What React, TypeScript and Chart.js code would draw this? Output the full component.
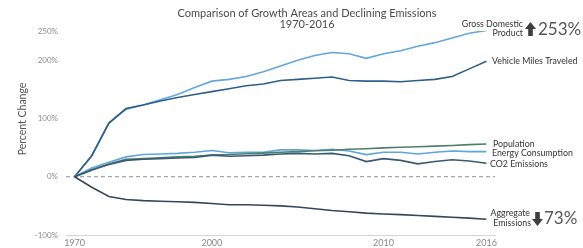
import React, { useEffect, useRef } from 'react';
import { Chart, registerables } from 'chart.js';

Chart.register(...registerables);

const years = ['1970', '1980', '1990', '1995', '1996', '1997', '1998', '1999', '2000', '2001', '2002', '2003', '2004', '2005', '2006', '2007', '2008', '2009', '2010', '2011', '2012', '2013', '2014', '2015', '2016'];
const shownYears = ['1970', '2000', '2010', '2016'];
const yTickValues = [-100, 0, 100, 200, 250];

const gdp = [0, 36, 92, 116, 123, 132, 141, 153, 164, 167, 172, 180, 190, 200, 208, 213, 211, 203, 211, 216, 224, 230, 238, 246, 251];
const vmt = [0, 36, 92, 117, 123, 130, 136, 141, 146, 151, 156, 159, 165, 167, 169, 171, 165, 164, 164, 163, 165, 167, 172, 185, 198];
const population = [0, 11, 22, 30, 31, 32.5, 34, 35, 37, 38, 39.5, 40.5, 42, 43, 44.5, 45.5, 47, 48, 49.5, 50.5, 51.5, 52.5, 53.5, 55, 56];
const energy = [0, 15, 25, 34, 38, 39, 40, 42, 45, 41, 42, 42, 46, 46, 45, 47, 44, 38, 42, 42, 39, 42, 44, 43, 43];
const co2 = [0, 12, 21, 28, 30, 31, 32, 33, 37, 35, 36, 37, 39, 40, 39, 40, 36, 26, 31, 28, 22, 26, 29, 27, 23];
const aggregate = [0, -18, -34, -39, -41, -42, -43, -44, -46, -48, -48, -49, -50, -52, -55, -58, -60, -62.5, -64, -65, -66.5, -68, -69.5, -71, -73];

const titleLines = ['Comparison of Growth Areas and Declining Emissions', '1970-2016'];
const yTitle = 'Percent Change';
const gdpChange = '253%';
const aggChange = '73%';

const FONT = 'Lato, "Noto Sans", sans-serif';

function arrow(ctx: CanvasRenderingContext2D, cx: number, top: number, h: number, up: boolean) {
  const hw = 5.5;
  const head = 7;
  const sw = 2.3;
  ctx.beginPath();
  if (up) {
    ctx.moveTo(cx, top);
    ctx.lineTo(cx + hw, top + head);
    ctx.lineTo(cx + sw, top + head);
    ctx.lineTo(cx + sw, top + h);
    ctx.lineTo(cx - sw, top + h);
    ctx.lineTo(cx - sw, top + head);
    ctx.lineTo(cx - hw, top + head);
  } else {
    const b = top + h;
    ctx.moveTo(cx, b);
    ctx.lineTo(cx + hw, b - head);
    ctx.lineTo(cx + sw, b - head);
    ctx.lineTo(cx + sw, top);
    ctx.lineTo(cx - sw, top);
    ctx.lineTo(cx - sw, b - head);
    ctx.lineTo(cx - hw, b - head);
  }
  ctx.closePath();
  ctx.fill();
}

const annotations = {
  id: 'annotations',
  afterDraw(chart: any) {
    const ctx: CanvasRenderingContext2D = chart.ctx;
    ctx.save();
    // title
    ctx.fillStyle = '#4a4a4a';
    ctx.textAlign = 'center';
    ctx.textBaseline = 'middle';
    ctx.font = `11px ${FONT}`;
    ctx.fillText(titleLines[0], 307, 13);
    ctx.fillText(titleLines[1], 307, 24);
    // y title
    ctx.save();
    ctx.translate(23, 119);
    ctx.rotate(-Math.PI / 2);
    ctx.font = `10.5px ${FONT}`;
    ctx.fillStyle = '#555';
    ctx.fillText(yTitle, 0, 0);
    ctx.restore();
    // series labels
    ctx.fillStyle = '#333';
    ctx.font = `8.8px ${FONT}`;
    ctx.textAlign = 'right';
    ctx.fillText('Gross Domestic', 523, 24);
    ctx.fillText('Product', 523, 33.5);
    ctx.fillText('Aggregate', 530, 213);
    ctx.fillText('Emissions', 531, 223);
    ctx.textAlign = 'left';
    ctx.fillText('Vehicle Miles Traveled', 492, 61);
    ctx.fillText('Population', 493, 144);
    ctx.fillText('Energy Consumption', 492, 153.5);
    ctx.fillText('CO2 Emissions', 490, 164.5);
    // arrows and big numbers
    ctx.fillStyle = '#3d3d3d';
    arrow(ctx, 530.5, 22, 14, true);
    arrow(ctx, 537.5, 212, 14, false);
    ctx.fillStyle = '#555';
    ctx.font = `17px ${FONT}`;
    ctx.fillText(gdpChange, 538, 30);
    ctx.fillText(aggChange, 544, 219);
    ctx.restore();
  },
};

export default function App() {
  const ref = useRef<HTMLCanvasElement | null>(null);
  useEffect(() => {
    if (!ref.current) return;
    const mk = (label: string, data: number[], color: string) => ({
      label,
      data,
      borderColor: color,
      backgroundColor: color,
      borderWidth: 1.6,
      pointRadius: 0,
      tension: 0,
      fill: false,
    });
    const chart = new Chart(ref.current, {
      type: 'line',
      data: {
        labels: years,
        datasets: [
          mk('Aggregate Emissions', aggregate, '#34485c'),
          mk('CO2 Emissions', co2, '#3b5a72'),
          mk('Population', population, '#4d7f6c'),
          mk('Energy Consumption', energy, '#5ea6dd'),
          mk('Vehicle Miles Traveled', vmt, '#2f5f88'),
          mk('Gross Domestic Product', gdp, '#62a7de'),
        ],
      },
      options: {
        responsive: true,
        maintainAspectRatio: false,
        animation: false,
        layout: { padding: { left: 0, right: 88, top: 31, bottom: 0 } },
        plugins: {
          legend: { display: false },
          tooltip: { enabled: false },
          title: { display: false },
        },
        scales: {
          x: {
            type: 'category',
            offset: true,
            grid: { display: true, drawOnChartArea: false, drawTicks: false },
            border: { display: true, color: '#dcd3d3', width: 1 },
            ticks: {
              autoSkip: false,
              maxRotation: 0,
              padding: 3,
              color: '#8a8a8a',
              font: { family: FONT, size: 9 },
              callback: (_v: any, i: number) => (shownYears.includes(years[i]) ? years[i] : ''),
            },
            afterFit: (s: any) => {
              s.height = 13;
            },
          },
          y: {
            min: -100,
            max: 250,
            afterBuildTicks: (s: any) => {
              s.ticks = yTickValues.map((v) => ({ value: v }));
            },
            afterFit: (s: any) => {
              s.width = 66;
            },
            grid: {
              drawTicks: false,
              color: (c: any) => (c.tick && c.tick.value === 0 ? '#a8a8a8' : 'rgba(0,0,0,0)'),
              lineWidth: 1.2,
            },
            border: { display: false, dash: [4, 3] },
            ticks: {
              autoSkip: false,
              padding: 8,
              color: '#8c8c8c',
              font: { family: FONT, size: 8 },
              callback: (v: any) => `${v}%`,
            },
          },
        },
      },
      plugins: [annotations],
    });
    return () => chart.destroy();
  }, []);
  return (
    <div style={{ position: 'fixed', left: 0, top: 0, width: 583, height: 248, background: '#fff' }}>
      <canvas ref={ref} />
    </div>
  );
}
